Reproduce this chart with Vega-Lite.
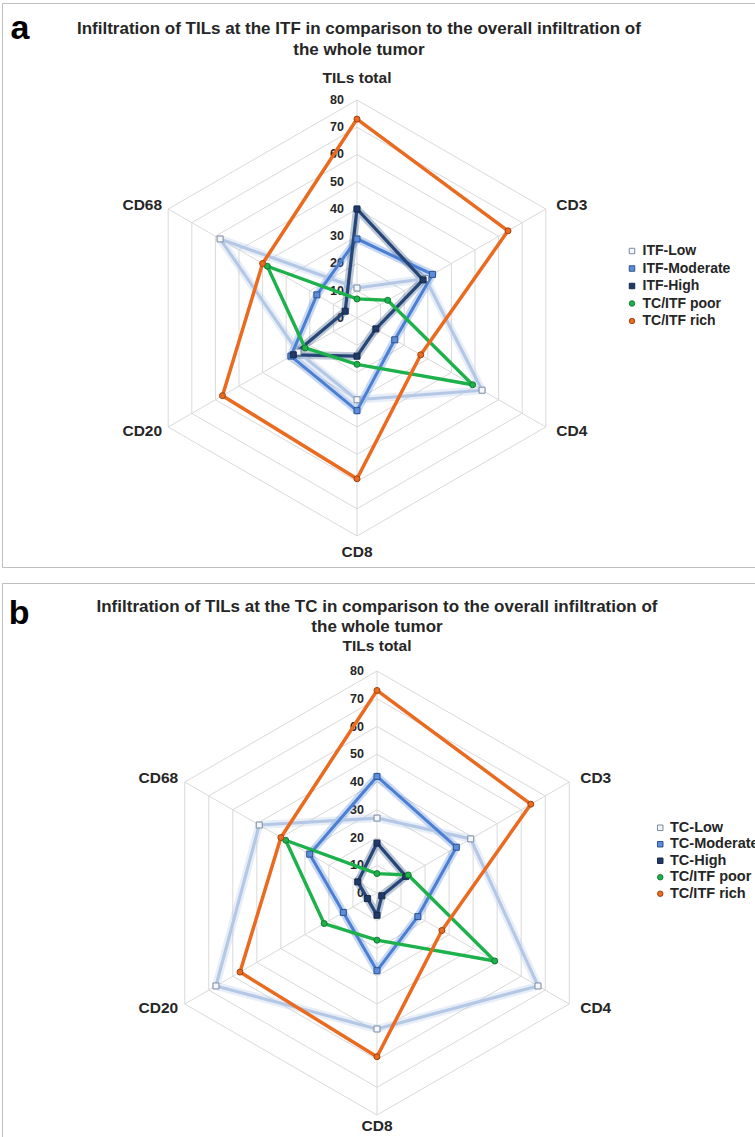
{
  "$schema": "https://vega.github.io/schema/vega-lite/v6.json",
  "background": "white",
  "padding": {"left": 1, "top": 2, "right": 0, "bottom": 0},
  "spacing": 14,
  "config": {
    "view": {"stroke": "#bfbfbf", "strokeWidth": 1},
    "font": "Liberation Sans",
    "text": {"font": "Liberation Sans"}
  },
  "datasets": {
    "rings": [
      {"level": 0, "k": [0, 1, 2, 3, 4, 5]},
      {"level": 10, "k": [0, 1, 2, 3, 4, 5]},
      {"level": 20, "k": [0, 1, 2, 3, 4, 5]},
      {"level": 30, "k": [0, 1, 2, 3, 4, 5]},
      {"level": 40, "k": [0, 1, 2, 3, 4, 5]},
      {"level": 50, "k": [0, 1, 2, 3, 4, 5]},
      {"level": 60, "k": [0, 1, 2, 3, 4, 5]},
      {"level": 70, "k": [0, 1, 2, 3, 4, 5]},
      {"level": 80, "k": [0, 1, 2, 3, 4, 5]}
    ],
    "axes": [
      {"axis": "TILs total", "k": 0},
      {"axis": "CD3", "k": 1},
      {"axis": "CD4", "k": 2},
      {"axis": "CD8", "k": 3},
      {"axis": "CD20", "k": 4},
      {"axis": "CD68", "k": 5}
    ],
    "itf": [
      {"series": "ITF-Low", "k": 0, "value": 11},
      {"series": "ITF-Low", "k": 1, "value": 29},
      {"series": "ITF-Low", "k": 2, "value": 53},
      {"series": "ITF-Low", "k": 3, "value": 30},
      {"series": "ITF-Low", "k": 4, "value": 25},
      {"series": "ITF-Low", "k": 5, "value": 58},
      {"series": "ITF-Moderate", "k": 0, "value": 29},
      {"series": "ITF-Moderate", "k": 1, "value": 32},
      {"series": "ITF-Moderate", "k": 2, "value": 16},
      {"series": "ITF-Moderate", "k": 3, "value": 34},
      {"series": "ITF-Moderate", "k": 4, "value": 28},
      {"series": "ITF-Moderate", "k": 5, "value": 17},
      {"series": "ITF-High", "k": 0, "value": 40},
      {"series": "ITF-High", "k": 1, "value": 28},
      {"series": "ITF-High", "k": 2, "value": 8},
      {"series": "ITF-High", "k": 3, "value": 14},
      {"series": "ITF-High", "k": 4, "value": 27},
      {"series": "ITF-High", "k": 5, "value": 5},
      {"series": "TC/ITF poor", "k": 0, "value": 7},
      {"series": "TC/ITF poor", "k": 1, "value": 13},
      {"series": "TC/ITF poor", "k": 2, "value": 49},
      {"series": "TC/ITF poor", "k": 3, "value": 17},
      {"series": "TC/ITF poor", "k": 4, "value": 22},
      {"series": "TC/ITF poor", "k": 5, "value": 38},
      {"series": "TC/ITF rich", "k": 0, "value": 73},
      {"series": "TC/ITF rich", "k": 1, "value": 64},
      {"series": "TC/ITF rich", "k": 2, "value": 27},
      {"series": "TC/ITF rich", "k": 3, "value": 59},
      {"series": "TC/ITF rich", "k": 4, "value": 57},
      {"series": "TC/ITF rich", "k": 5, "value": 40}
    ],
    "tc": [
      {"series": "TC-Low", "k": 0, "value": 27},
      {"series": "TC-Low", "k": 1, "value": 39},
      {"series": "TC-Low", "k": 2, "value": 67},
      {"series": "TC-Low", "k": 3, "value": 49},
      {"series": "TC-Low", "k": 4, "value": 67},
      {"series": "TC-Low", "k": 5, "value": 49},
      {"series": "TC-Moderate", "k": 0, "value": 42},
      {"series": "TC-Moderate", "k": 1, "value": 33},
      {"series": "TC-Moderate", "k": 2, "value": 17},
      {"series": "TC-Moderate", "k": 3, "value": 28},
      {"series": "TC-Moderate", "k": 4, "value": 14},
      {"series": "TC-Moderate", "k": 5, "value": 28},
      {"series": "TC-High", "k": 0, "value": 18},
      {"series": "TC-High", "k": 1, "value": 12},
      {"series": "TC-High", "k": 2, "value": 2},
      {"series": "TC-High", "k": 3, "value": 8},
      {"series": "TC-High", "k": 4, "value": 4},
      {"series": "TC-High", "k": 5, "value": 8},
      {"series": "TC/ITF poor", "k": 0, "value": 7},
      {"series": "TC/ITF poor", "k": 1, "value": 13},
      {"series": "TC/ITF poor", "k": 2, "value": 49},
      {"series": "TC/ITF poor", "k": 3, "value": 17},
      {"series": "TC/ITF poor", "k": 4, "value": 22},
      {"series": "TC/ITF poor", "k": 5, "value": 38},
      {"series": "TC/ITF rich", "k": 0, "value": 73},
      {"series": "TC/ITF rich", "k": 1, "value": 64},
      {"series": "TC/ITF rich", "k": 2, "value": 27},
      {"series": "TC/ITF rich", "k": 3, "value": 59},
      {"series": "TC/ITF rich", "k": 4, "value": 57},
      {"series": "TC/ITF rich", "k": 5, "value": 40}
    ]
  },
  "resolve": {
    "scale": {"x": "independent", "y": "independent", "color": "independent", "fill": "independent", "stroke": "independent", "shape": "independent", "size": "independent", "strokeWidth": "independent"}
  },
  "vconcat": [
    {
      "width": 753,
      "height": 564,
      "layer": [
        {
          "data": {"name": "rings"},
          "transform": [
            {"filter": "datum.level > 0"},
            {"flatten": ["k"]},
            {"calculate": "datum.level * sin(datum.k * PI / 3)", "as": "gx"},
            {"calculate": "datum.level * cos(datum.k * PI / 3)", "as": "gy"}
          ],
          "mark": {"type": "line", "interpolate": "linear-closed", "stroke": "#d9d9d9", "strokeWidth": 1},
          "encoding": {
            "x": {"field": "gx", "type": "quantitative", "scale": {"domain": [-130.275, 146.06], "nice": false, "zero": false}, "axis": null},
            "y": {"field": "gy", "type": "quantitative", "scale": {"domain": [-91.376, 115.596], "nice": false, "zero": false}, "axis": null},
            "detail": {"field": "level"},
            "order": {"field": "k"}
          }
        },
        {
          "data": {"name": "axes"},
          "transform": [
            {"calculate": "0", "as": "z"},
            {"calculate": "80 * sin(datum.k * PI / 3)", "as": "sx"},
            {"calculate": "80 * cos(datum.k * PI / 3)", "as": "sy"}
          ],
          "mark": {"type": "rule", "stroke": "#d9d9d9", "strokeWidth": 1},
          "encoding": {
            "x": {"field": "z", "type": "quantitative"},
            "y": {"field": "z", "type": "quantitative"},
            "x2": {"field": "sx"},
            "y2": {"field": "sy"}
          }
        },
        {
          "data": {"name": "rings"},
          "transform": [{"calculate": "0", "as": "z"}],
          "mark": {"type": "text", "align": "right", "baseline": "middle", "dx": -13, "fontSize": 12.5, "fontWeight": "bold", "fill": "#262626"},
          "encoding": {
            "x": {"field": "z", "type": "quantitative"},
            "y": {"field": "level", "type": "quantitative"},
            "text": {"field": "level"}
          }
        },
        {
          "data": {"name": "axes"},
          "transform": [
            {"calculate": "datum.k == 0 || datum.k == 3 ? 0 : 91 * sin(datum.k * PI / 3)", "as": "lx"},
            {"calculate": "datum.k == 0 ? 88 : (datum.k == 3 ? -86 : 83 * cos(datum.k * PI / 3))", "as": "ly"}
          ],
          "mark": {"type": "text", "align": "center", "baseline": "middle", "fontSize": 15.5, "fontWeight": "bold", "fill": "#262626"},
          "encoding": {
            "x": {"field": "lx", "type": "quantitative"},
            "y": {"field": "ly", "type": "quantitative"},
            "text": {"field": "axis"}
          }
        },
        {
          "data": {"values": [{}]},
          "mark": {"type": "text", "text": ["Infiltration of TILs at the ITF in comparison to the overall infiltration of", "the whole tumor"], "align": "center", "baseline": "alphabetic", "fontSize": 17, "fontWeight": "bold", "fill": "#262626", "lineHeight": 21},
          "encoding": {"x": {"datum": 0.7}, "y": {"datum": 104.4}}
        },
        {
          "data": {"values": [{}]},
          "mark": {"type": "text", "text": "a", "align": "center", "baseline": "alphabetic", "fontSize": 34, "fontWeight": "bold", "fill": "#000000"},
          "encoding": {"x": {"datum": -123.7}, "y": {"datum": 102.4}}
        },
        {
          "data": {"name": "itf"},
          "transform": [
            {"filter": "indexof(['ITF-Low','ITF-Moderate','ITF-High'], datum.series) >= 0"},
            {"calculate": "datum.value * sin(datum.k * PI / 3)", "as": "px"},
            {"calculate": "datum.value * cos(datum.k * PI / 3)", "as": "py"}
          ],
          "mark": {"type": "line", "interpolate": "linear-closed", "strokeWidth": 8, "opacity": 0.3, "strokeJoin": "round"},
          "encoding": {
            "x": {"field": "px", "type": "quantitative"},
            "y": {"field": "py", "type": "quantitative"},
            "color": {"field": "series", "type": "nominal", "scale": {"domain": ["TC/ITF rich", "TC/ITF poor", "ITF-High", "ITF-Moderate", "ITF-Low"], "range": ["#ea6a1f", "#1db14b", "#264677", "#4a7fd4", "#b4c8e6"]}, "legend": null},
            "order": {"field": "k"}
          }
        },
        {
          "data": {"name": "itf"},
          "transform": [
            {"calculate": "datum.value * sin(datum.k * PI / 3)", "as": "px"},
            {"calculate": "datum.value * cos(datum.k * PI / 3)", "as": "py"}
          ],
          "mark": {"type": "line", "interpolate": "linear-closed", "strokeJoin": "round"},
          "encoding": {
            "x": {"field": "px", "type": "quantitative"},
            "y": {"field": "py", "type": "quantitative"},
            "color": {"field": "series", "type": "nominal", "scale": {"domain": ["TC/ITF rich", "TC/ITF poor", "ITF-High", "ITF-Moderate", "ITF-Low"], "range": ["#ea6a1f", "#1db14b", "#264677", "#4a7fd4", "#b4c8e6"]}, "legend": null},
            "strokeWidth": {"field": "series", "type": "nominal", "scale": {"domain": ["ITF-Moderate", "ITF-Low", "ITF-High", "TC/ITF poor", "TC/ITF rich"], "range": [3, 3.5, 2.5, 1.4, 1.4]}, "legend": null},
            "order": {"field": "k"}
          }
        },
        {
          "data": {"name": "itf"},
          "transform": [
            {"calculate": "datum.value * sin(datum.k * PI / 3)", "as": "px"},
            {"calculate": "datum.value * cos(datum.k * PI / 3)", "as": "py"}
          ],
          "mark": {"type": "point", "filled": true, "strokeWidth": 1, "opacity": 1},
          "encoding": {
            "x": {"field": "px", "type": "quantitative"},
            "y": {"field": "py", "type": "quantitative"},
            "fill": {"field": "series", "type": "nominal", "scale": {"domain": ["ITF-Low", "ITF-Moderate", "ITF-High", "TC/ITF poor", "TC/ITF rich"], "range": ["#f4f6fa", "#5b8dd8", "#1f3a66", "#1db14b", "#ea6a1f"]},
              "legend": {"orient": "none", "legendX": 623, "legendY": 241, "title": null, "padding": 0, "labelFont": "Liberation Sans", "labelFontSize": 14, "labelFontWeight": "bold", "labelColor": "#262626", "symbolSize": 30, "symbolStrokeWidth": 1, "rowPadding": 3.5, "labelOffset": 3.5}},
            "stroke": {"field": "series", "type": "nominal", "scale": {"domain": ["ITF-Low", "ITF-Moderate", "ITF-High", "TC/ITF poor", "TC/ITF rich"], "range": ["#7d8ba0", "#2d5392", "#16294a", "#137a33", "#9e4412"]}},
            "shape": {"field": "series", "type": "nominal", "scale": {"domain": ["ITF-Low", "ITF-Moderate", "ITF-High", "TC/ITF poor", "TC/ITF rich"], "range": ["square", "square", "square", "circle", "circle"]}},
            "size": {"field": "series", "type": "nominal", "scale": {"domain": ["ITF-High", "ITF-Low", "ITF-Moderate", "TC/ITF rich", "TC/ITF poor"], "range": [36, 36, 36, 24, 24]}, "legend": null}
          }
        }
      ]
    },
    {
      "width": 760,
      "height": 560,
      "layer": [
        {
          "data": {"name": "rings"},
          "transform": [
            {"filter": "datum.level > 0"},
            {"flatten": ["k"]},
            {"calculate": "datum.level * sin(datum.k * PI / 3)", "as": "gx"},
            {"calculate": "datum.level * cos(datum.k * PI / 3)", "as": "gy"}
          ],
          "mark": {"type": "line", "interpolate": "linear-closed", "stroke": "#d9d9d9", "strokeWidth": 1},
          "encoding": {
            "x": {"field": "gx", "type": "quantitative", "scale": {"domain": [-135.135, 138.739], "nice": false, "zero": false}, "axis": null},
            "y": {"field": "gy", "type": "quantitative", "scale": {"domain": [-90.09, 111.712], "nice": false, "zero": false}, "axis": null},
            "detail": {"field": "level"},
            "order": {"field": "k"}
          }
        },
        {
          "data": {"name": "axes"},
          "transform": [
            {"calculate": "0", "as": "z"},
            {"calculate": "80 * sin(datum.k * PI / 3)", "as": "sx"},
            {"calculate": "80 * cos(datum.k * PI / 3)", "as": "sy"}
          ],
          "mark": {"type": "rule", "stroke": "#d9d9d9", "strokeWidth": 1},
          "encoding": {
            "x": {"field": "z", "type": "quantitative"},
            "y": {"field": "z", "type": "quantitative"},
            "x2": {"field": "sx"},
            "y2": {"field": "sy"}
          }
        },
        {
          "data": {"name": "rings"},
          "transform": [{"calculate": "0", "as": "z"}],
          "mark": {"type": "text", "align": "right", "baseline": "middle", "dx": -13, "fontSize": 12.5, "fontWeight": "bold", "fill": "#262626"},
          "encoding": {
            "x": {"field": "z", "type": "quantitative"},
            "y": {"field": "level", "type": "quantitative"},
            "text": {"field": "level"}
          }
        },
        {
          "data": {"name": "axes"},
          "transform": [
            {"calculate": "datum.k == 0 || datum.k == 3 ? 0 : 91 * sin(datum.k * PI / 3)", "as": "lx"},
            {"calculate": "datum.k == 0 ? 89 : (datum.k == 3 ? -84 : 83 * cos(datum.k * PI / 3))", "as": "ly"}
          ],
          "mark": {"type": "text", "align": "center", "baseline": "middle", "fontSize": 15.5, "fontWeight": "bold", "fill": "#262626"},
          "encoding": {
            "x": {"field": "lx", "type": "quantitative"},
            "y": {"field": "ly", "type": "quantitative"},
            "text": {"field": "axis"}
          }
        },
        {
          "data": {"values": [{}]},
          "mark": {"type": "text", "text": ["Infiltration of TILs at the TC in comparison to the overall infiltration of", "the whole tumor"], "align": "center", "baseline": "alphabetic", "fontSize": 17, "fontWeight": "bold", "fill": "#262626", "lineHeight": 20},
          "encoding": {"x": {"datum": 0}, "y": {"datum": 101.4}}
        },
        {
          "data": {"values": [{}]},
          "mark": {"type": "text", "text": "b", "align": "center", "baseline": "alphabetic", "fontSize": 34, "fontWeight": "bold", "fill": "#000000"},
          "encoding": {"x": {"datum": -129}, "y": {"datum": 97}}
        },
        {
          "data": {"name": "tc"},
          "transform": [
            {"filter": "indexof(['TC-Low','TC-Moderate','TC-High'], datum.series) >= 0"},
            {"calculate": "datum.value * sin(datum.k * PI / 3)", "as": "px"},
            {"calculate": "datum.value * cos(datum.k * PI / 3)", "as": "py"}
          ],
          "mark": {"type": "line", "interpolate": "linear-closed", "strokeWidth": 8, "opacity": 0.3, "strokeJoin": "round"},
          "encoding": {
            "x": {"field": "px", "type": "quantitative"},
            "y": {"field": "py", "type": "quantitative"},
            "color": {"field": "series", "type": "nominal", "scale": {"domain": ["TC/ITF rich", "TC/ITF poor", "TC-High", "TC-Moderate", "TC-Low"], "range": ["#ea6a1f", "#1db14b", "#264677", "#4a7fd4", "#b4c8e6"]}, "legend": null},
            "order": {"field": "k"}
          }
        },
        {
          "data": {"name": "tc"},
          "transform": [
            {"calculate": "datum.value * sin(datum.k * PI / 3)", "as": "px"},
            {"calculate": "datum.value * cos(datum.k * PI / 3)", "as": "py"}
          ],
          "mark": {"type": "line", "interpolate": "linear-closed", "strokeJoin": "round"},
          "encoding": {
            "x": {"field": "px", "type": "quantitative"},
            "y": {"field": "py", "type": "quantitative"},
            "color": {"field": "series", "type": "nominal", "scale": {"domain": ["TC/ITF rich", "TC/ITF poor", "TC-High", "TC-Moderate", "TC-Low"], "range": ["#ea6a1f", "#1db14b", "#264677", "#4a7fd4", "#b4c8e6"]}, "legend": null},
            "strokeWidth": {"field": "series", "type": "nominal", "scale": {"domain": ["TC-Moderate", "TC-Low", "TC-High", "TC/ITF poor", "TC/ITF rich"], "range": [3, 3.5, 2.5, 1.4, 1.4]}, "legend": null},
            "order": {"field": "k"}
          }
        },
        {
          "data": {"name": "tc"},
          "transform": [
            {"calculate": "datum.value * sin(datum.k * PI / 3)", "as": "px"},
            {"calculate": "datum.value * cos(datum.k * PI / 3)", "as": "py"}
          ],
          "mark": {"type": "point", "filled": true, "strokeWidth": 1, "opacity": 1},
          "encoding": {
            "x": {"field": "px", "type": "quantitative"},
            "y": {"field": "py", "type": "quantitative"},
            "fill": {"field": "series", "type": "nominal", "scale": {"domain": ["TC-Low", "TC-Moderate", "TC-High", "TC/ITF poor", "TC/ITF rich"], "range": ["#f4f6fa", "#5b8dd8", "#1f3a66", "#1db14b", "#ea6a1f"]},
              "legend": {"orient": "none", "legendX": 651, "legendY": 237.5, "title": null, "padding": 0, "labelFont": "Liberation Sans", "labelFontSize": 14.5, "labelFontWeight": "bold", "labelColor": "#262626", "symbolSize": 30, "symbolStrokeWidth": 1, "rowPadding": 1.5, "labelOffset": 2.5}},
            "stroke": {"field": "series", "type": "nominal", "scale": {"domain": ["TC-Low", "TC-Moderate", "TC-High", "TC/ITF poor", "TC/ITF rich"], "range": ["#7d8ba0", "#2d5392", "#16294a", "#137a33", "#9e4412"]}},
            "shape": {"field": "series", "type": "nominal", "scale": {"domain": ["TC-Low", "TC-Moderate", "TC-High", "TC/ITF poor", "TC/ITF rich"], "range": ["square", "square", "square", "circle", "circle"]}},
            "size": {"field": "series", "type": "nominal", "scale": {"domain": ["TC-High", "TC-Low", "TC-Moderate", "TC/ITF rich", "TC/ITF poor"], "range": [36, 36, 36, 24, 24]}, "legend": null}
          }
        }
      ]
    }
  ]
}
